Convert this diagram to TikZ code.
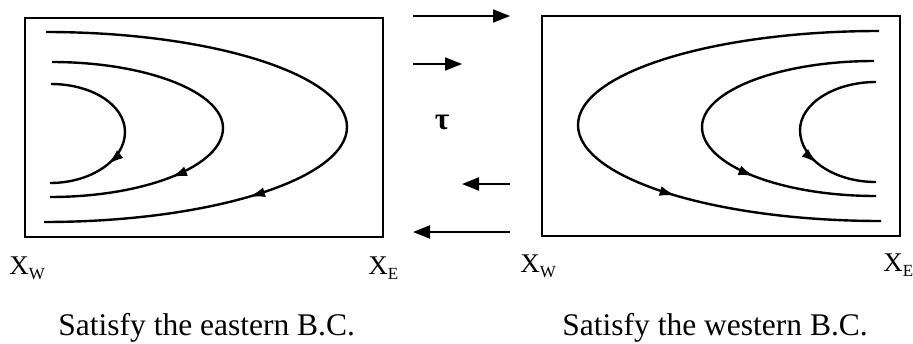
\documentclass[tikz,border=0pt]{standalone}
\usepackage{fontspec}
\setmainfont{Liberation Serif}
\usepackage{tikz}
\usetikzlibrary{arrows.meta,decorations.markings}

\newcommand{\xsub}[1]{X\raisebox{-2.6pt}{\fontsize{8.5}{9}\selectfont #1}}

\begin{document}
\begin{tikzpicture}[x=0.5pt,y=-0.5pt,
    box/.style={line width=1.4pt},
    streamline/.style={line width=1.2pt},
    flow/.style={streamline,postaction={decorate},
      decoration={markings,mark=at position 0.38 with {\arrow{Latex[length=8pt,width=5pt]}}}},
    stress/.style={line width=1pt,-{Triangle[length=8.5pt,width=6.5pt]}},
    xlab/.style={anchor=base west,inner sep=0pt,font=\fontsize{13.5}{16}\selectfont},
    caption/.style={anchor=base west,inner sep=0pt,font=\fontsize{15.75}{18}\selectfont}]

  \useasboundingbox (0,0) rectangle (913,343);

  % Left box: eastern solution
  \draw[box] (25,18) rectangle (383,237);
  % outer, middle, inner streamlines (top half, then lower half with arrow)
  \draw[streamline] (46,32) .. controls (212,32) and (347,75) .. (347,127);
  \draw[flow] (347,127) .. controls (347,179) and (211,222) .. (44,222);
  \draw[streamline] (52,62) .. controls (146,62) and (223,92) .. (223,128);
  \draw[flow] (223,128) .. controls (223,166) and (145,197) .. (50,197);
  \draw[streamline] (51,84) .. controls (92,84) and (125,105) .. (125,132);
  \draw[flow] (125,132) .. controls (125,160) and (91,183) .. (50,183);

  % Right box: western solution
  \draw[box] (542,16) rectangle (900,236);
  \draw[streamline] (879,31) .. controls (713,31) and (578,73) .. (578,125);
  \draw[flow] (578,125) .. controls (578,178) and (714,221) .. (881,221);
  \draw[streamline] (874,61) .. controls (779,61) and (702,91) .. (702,127);
  \draw[flow] (702,127) .. controls (702,165) and (780,196) .. (876,196);
  \draw[streamline] (876,82) .. controls (834,82) and (800,104) .. (800,130);
  \draw[flow] (800,130) .. controls (800,159) and (834,182) .. (876,182);

  % Wind stress arrows
  \coordinate (tauAw) at (413,16);  \coordinate (tauAe) at (510,16);
  \coordinate (tauBw) at (413,64);  \coordinate (tauBe) at (462,64);
  \coordinate (tauCe) at (510,184); \coordinate (tauCw) at (462,184);
  \coordinate (tauDe) at (510,232); \coordinate (tauDw) at (413,232);
  \draw[stress] (tauAw) -- (tauAe);
  \draw[stress] (tauBw) -- (tauBe);
  \draw[stress] (tauCe) -- (tauCw);
  \draw[stress] (tauDe) -- (tauDw);
  \node[font=\fontsize{15.75}{18}\selectfont\bfseries] (tau) at (442,122) {τ};

  % Boundary labels
  \node[xlab] (xwl) at (9,274) {\xsub{W}};
  \node[xlab] (xel) at (368,274) {\xsub{E}};
  \node[xlab] (xwr) at (520,272) {\xsub{W}};
  \node[xlab] (xer) at (883,271) {\xsub{E}};

  % Captions
  \node[caption] (capl) at (58,335) {Satisfy the eastern B.C.};
  \node[caption] (capr) at (562,335) {Satisfy the western B.C.};

\end{tikzpicture}
\end{document}
